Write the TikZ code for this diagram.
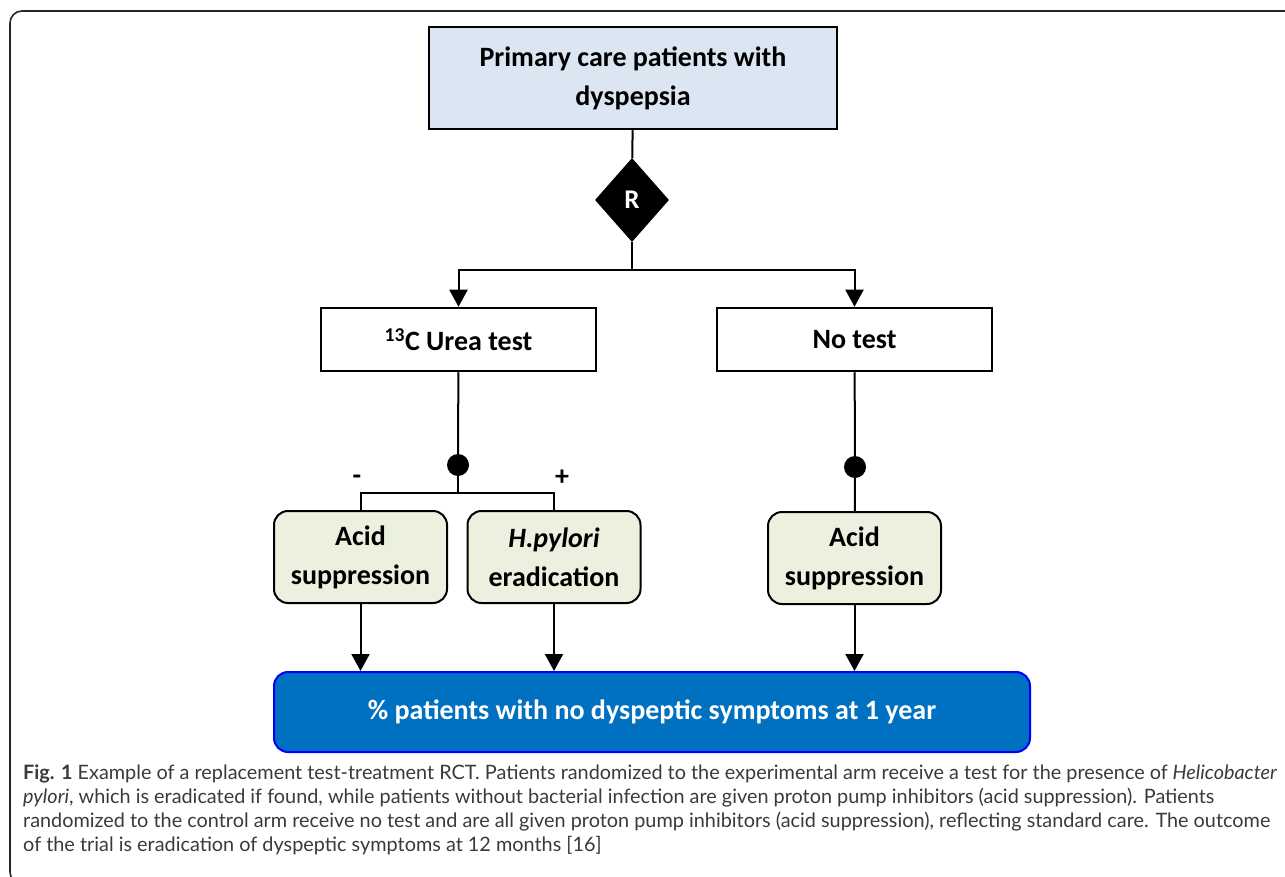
\documentclass[tikz,border=0pt]{standalone}
\usepackage{fontspec}
\setmainfont{Carlito}
\newfontfamily\capfont{Lato}
\usetikzlibrary{shapes.geometric,arrows.meta,calc}
\definecolor{topblue}{HTML}{DCE6F2}
\definecolor{boxgreen}{HTML}{EBF1DE}
\definecolor{outblue}{HTML}{0070C0}
\definecolor{outborder}{HTML}{0000FF}
\definecolor{captext}{HTML}{3A3A3A}
\tikzset{
  conn/.style={line width=2pt, draw=black},
  arr/.style={conn, -{Triangle[width=18pt,length=17pt]}},
  sqbox/.style={draw=black, line width=2.5pt, align=center, font=\fontsize{28}{39}\selectfont\bfseries, inner sep=0pt},
  rbox/.style={draw=black, line width=2pt, rounded corners=14pt, fill=boxgreen, align=center, font=\fontsize{28}{39}\selectfont\bfseries, inner sep=0pt, minimum width=173pt, minimum height=92pt},
  dotnode/.style={circle, fill=black, inner sep=0pt, minimum size=22pt},
  capline/.style={anchor=base west, inner sep=0pt, text=captext, font=\capfont\fontsize{19.85}{24}\selectfont},
  sign/.style={font=\fontsize{28}{28}\selectfont\bfseries, inner sep=0pt}
}
\begin{document}
\begin{tikzpicture}[x=1pt,y=-1pt]
\useasboundingbox (0,0) rectangle (1285,877);
% outer frame
\draw[line width=1.6pt, draw=black!85, rounded corners=12pt] (1300,11) -- (10,11) -- (10,884) -- (60,884);
% nodes
\node[sqbox, fill=topblue, minimum width=408pt, minimum height=102pt] (top) at (633,78) {Primary care patients with\\dyspepsia};
\node[diamond, fill=black, inner sep=0pt, minimum width=74pt, minimum height=84pt, text=white, font=\fontsize{27}{28}\selectfont\bfseries] (dia) at (632,200) {R};
\node[sqbox, fill=white, minimum width=275pt, minimum height=63pt] (urea) at (458.5,339.5) {\textsuperscript{13}C Urea test};
\node[sqbox, fill=white, minimum width=275pt, minimum height=63pt] (notest) at (854.5,339.5) {No test};
\node[dotnode] (d1) at (458,465) {};
\node[dotnode] (d2) at (855,467) {};
\node[rbox] (acid1) at (360.5,557) {Acid\\suppression};
\node[rbox] (hp) at (554,557) {\textit{H.pylori}\\eradication};
\node[rbox] (acid2) at (854.5,558) {Acid\\suppression};
\node[draw=outborder, line width=2pt, fill=outblue, rounded corners=14pt, minimum width=756pt, minimum height=80pt, text=white, font=\fontsize{28}{30}\selectfont\bfseries] (out) at (652,712) {\% patients with no dyspeptic symptoms at 1 year};
\node[sign] (minus) at (357,480) {-};
\node[sign] (plus) at (562,478) {+};
\coordinate (j1) at (632,270);
\coordinate (j2) at (458,493);
% connectors
\draw[conn] (top) -- (dia);
\draw[conn] (dia) -- (j1);
\draw[arr] (j1) -| (urea);
\draw[arr] (j1) -| (notest);
\draw[conn] (urea) -- (d1);
\draw[conn] (d1) -- (j2);
\draw[conn] (j2) -| (acid1);
\draw[conn] (j2) -| (hp);
\draw[conn] (notest) -- (d2);
\draw[conn] (d2) -- (acid2);
\draw[arr] (acid1) -- (acid1 |- out.north);
\draw[arr] (hp) -- (hp |- out.north);
\draw[arr] (acid2) -- (acid2 |- out.north);
% caption
\node[capline] (c1) at (23,779) {\textbf{Fig. 1} Example of a replacement test-treatment RCT. Patients randomized to the experimental arm receive a test for the presence of \textit{Helicobacter}};
\node[capline] (c2) at (23,803) {\textit{pylori}, which is eradicated if found, while patients without bacterial infection are given proton pump inhibitors (acid suppression). Patients};
\node[capline] (c3) at (23,827) {randomized to the control arm receive no test and are all given proton pump inhibitors (acid suppression), reflecting standard care. The outcome};
\node[capline] (c4) at (23,851) {of the trial is eradication of dyspeptic symptoms at 12 months [16]};
\end{tikzpicture}
\end{document}
